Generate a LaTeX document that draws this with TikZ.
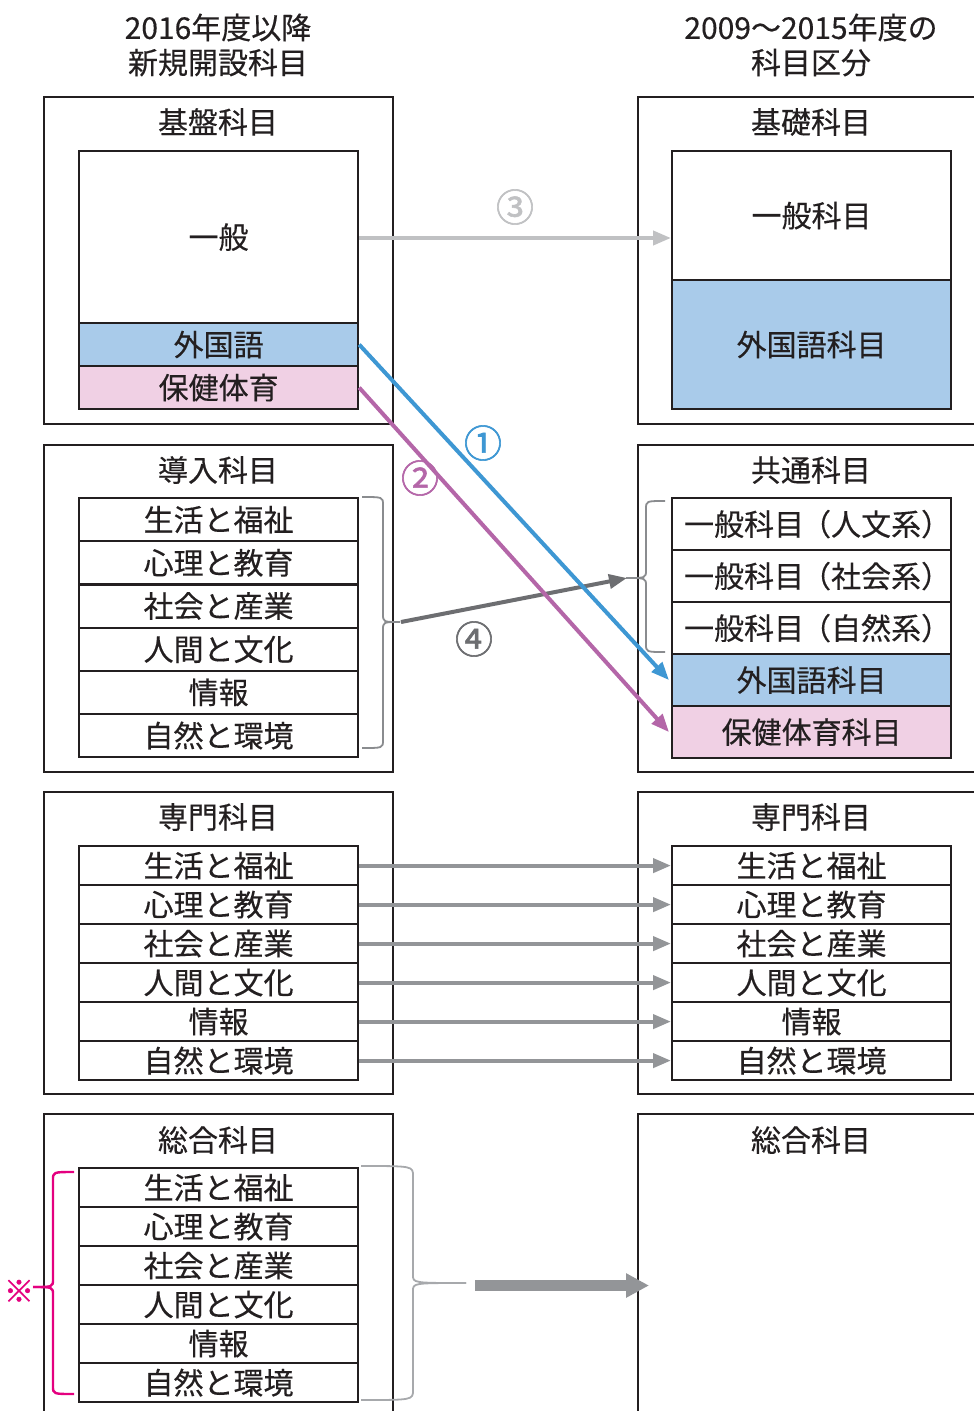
\documentclass[tikz,border=0pt]{standalone}
\usepackage{fontspec}
\setmainfont{Noto Sans CJK JP}[FakeBold=0.35]
\newfontfamily\numfont{Noto Sans CJK JP}[FakeBold=1.6]
\usetikzlibrary{arrows.meta}
\definecolor{ink}{HTML}{231F20}
\definecolor{bluefill}{HTML}{A9CBEA}
\definecolor{pinkfill}{HTML}{F0D0E4}
\definecolor{arrblue}{HTML}{3E97D3}
\definecolor{arrpurple}{HTML}{B466A8}
\definecolor{arrlight}{HTML}{C0C1C3}
\definecolor{arrmid}{HTML}{939598}
\definecolor{arrdark}{HTML}{6D6E71}
\definecolor{bracegray}{HTML}{8A8C8F}
\definecolor{bracelight}{HTML}{A7A9AC}
\definecolor{magenta}{HTML}{E4007F}
\begin{document}
\begin{tikzpicture}[x=1pt,y=-1pt,
  outerbox/.style={draw=ink, line width=2.2pt, inner sep=0pt, anchor=north west, minimum width=349pt},
  outerboxr/.style={draw=ink, line width=2.2pt, inner sep=0pt, anchor=north west, minimum width=380pt},
  cell/.style={draw=ink, line width=2.2pt, inner sep=0pt, anchor=north west, minimum width=279pt, font=\fontsize{30}{30}\selectfont, text=ink},
  ttl/.style={font=\fontsize{30}{30}\selectfont, text=ink, inner sep=0pt},
  num/.style={font=\numfont\fontsize{38}{38}\selectfont, inner sep=0pt},
  arr/.style={line width=4pt, -{Triangle[length=18pt,width=14pt]}},
  brc/.style={line width=1.8pt}
]
\useasboundingbox (0,0) rectangle (974,1411);
\clip (0,0) rectangle (974,1411);

% headers
\node[ttl, align=center, font=\fontsize{30}{35}\selectfont] (hl) at (218,45) {2016年度以降\\新規開設科目};
\node[ttl, align=center, font=\fontsize{30}{35}\selectfont] (hr) at (811,45) {2009～2015年度の\\科目区分};

% ---------- row 1 ----------
\node[outerbox, minimum height=327pt] (kibanL) at (43,96) {};
\node[ttl] (kibanT) at (218,122) {基盤科目};
\node[cell, minimum height=172pt] (ippan) at (78,150) {一般};
\node[cell, minimum height=43pt, fill=bluefill] (gaikoku) at (78,322) {外国語};
\node[cell, minimum height=43pt, fill=pinkfill] (hoken) at (78,365) {保健体育};

\node[outerboxr, minimum height=327pt] (kisoR) at (637,96) {};
\node[ttl] (kisoT) at (811,122) {基礎科目};
\node[cell, minimum height=129pt] (ippan2) at (671,150) {一般科目};
\node[cell, minimum height=129pt, fill=bluefill] (gaikoku2) at (671,279) {外国語科目};

% ---------- row 2 ----------
\node[outerbox, minimum height=327pt] (donyuL) at (43,444) {};
\node[ttl] (donyuT) at (218,470) {導入科目};
\foreach \t [count=\i] in {生活と福祉,心理と教育,社会と産業,人間と文化,情報,自然と環境}
  \node[cell, minimum height=43.17pt] (d\i) at (78,{497+43.17*(\i-1)}) {\t};

\node[outerboxr, minimum height=327pt] (kyotsuR) at (637,444) {};
\node[ttl] (kyotsuT) at (811,470) {共通科目};
\node[cell, minimum height=52pt] (k1) at (671,497) {一般科目\kern-3pt（人文系）\kern-12pt};
\node[cell, minimum height=52pt] (k2) at (671,549) {一般科目\kern-3pt（社会系）\kern-12pt};
\node[cell, minimum height=52pt] (k3) at (671,601) {一般科目\kern-3pt（自然系）\kern-12pt};
\node[cell, minimum height=52pt, fill=bluefill] (gaikoku3) at (671,653) {外国語科目};
\node[cell, minimum height=52pt, fill=pinkfill] (hoken3) at (671,705) {保健体育科目};

% ---------- row 3 ----------
\node[outerbox, minimum height=302pt] (senmonL) at (43,791) {};
\node[ttl] (senmonT) at (218,817) {専門科目};
\node[outerboxr, minimum height=302pt] (senmonR) at (637,791) {};
\node[ttl] (senmonT2) at (811,817) {専門科目};
\foreach \t [count=\i] in {生活と福祉,心理と教育,社会と産業,人間と文化,情報,自然と環境}{
  \node[cell, minimum height=39pt] (s\i) at (78,{845+39*(\i-1)}) {\t};
  \node[cell, minimum height=39pt] (t\i) at (671,{845+39*(\i-1)}) {\t};
}

% ---------- row 4 ----------
\node[outerbox, minimum height=330pt] (sogoL) at (43,1113) {};
\node[ttl] (sogoT) at (218,1140) {総合科目};
\foreach \t [count=\i] in {生活と福祉,心理と教育,社会と産業,人間と文化,情報,自然と環境}
  \node[cell, minimum height=39pt] (g\i) at (78,{1167+39*(\i-1)}) {\t};
\node[outerboxr, minimum height=330pt] (sogoR) at (637,1113) {};
\node[ttl] (sogoT2) at (811,1140) {総合科目};

% ---------- braces ----------
\draw[brc, draw=bracegray] (362,497) .. controls (383,497) .. (383,505) -- (383,614) .. controls (383,622) .. (400,622);
\draw[brc, draw=bracegray] (362,748) .. controls (383,748) .. (383,740) -- (383,630) .. controls (383,622) .. (400,622);
\coordinate (dtip) at (401,622);
\draw[brc, draw=bracegray] (665,501) .. controls (646,501) .. (646,509) -- (646,570) .. controls (646,578) .. (626,578);
\draw[brc, draw=bracegray] (665,652) .. controls (646,652) .. (646,644) -- (646,586) .. controls (646,578) .. (626,578);
\coordinate (ktip) at (627,578);
\draw[brc, draw=bracelight] (361,1166) .. controls (413,1166) .. (413,1176) -- (413,1275) .. controls (413,1283) .. (466,1283);
\draw[brc, draw=bracelight] (361,1400) .. controls (413,1400) .. (413,1390) -- (413,1291) .. controls (413,1283) .. (466,1283);
\coordinate (gstart) at (475,1285.5);
\coordinate (gend) at (649,1285.5);
\draw[brc, draw=magenta, line width=2.4pt] (74,1172) .. controls (53,1172) .. (53,1180) -- (53,1279) .. controls (53,1287) .. (33,1287);
\draw[brc, draw=magenta, line width=2.4pt] (74,1394) .. controls (53,1394) .. (53,1386) -- (53,1295) .. controls (53,1287) .. (33,1287);
\coordinate (mtip) at (33,1287);
\node[text=magenta, font=\numfont\fontsize{30}{30}\selectfont, inner sep=0pt] (kome) at (19,1291) {※};

% ---------- arrows ----------
\draw[arr, draw=arrlight] (ippan.east |- 0,238) -- (ippan2.west |- 0,238);
\node[num, text=arrlight] (n3) at (515,207) {③};

\draw[arr, draw=arrdark] (dtip) -- (ktip);
\node[num, text=arrdark] (n4) at (474,639) {④};

\draw[arr, draw=arrpurple] (hoken.east) -- ([xshift=-2pt]hoken3.west);
\node[num, text=arrpurple] (n2) at (420,478) {②};
\draw[arr, draw=arrblue] (gaikoku.east) -- ([xshift=-2pt]gaikoku3.west);
\node[num, text=arrblue] (n1) at (483,443) {①};

\foreach \i in {1,...,6}
  \draw[arr, draw=arrmid] (s\i.east) -- (t\i.west);

\draw[draw=arrmid, line width=11pt, -{Triangle[length=23pt,width=23pt]}] (gstart) -- (gend);
\end{tikzpicture}
\end{document}
